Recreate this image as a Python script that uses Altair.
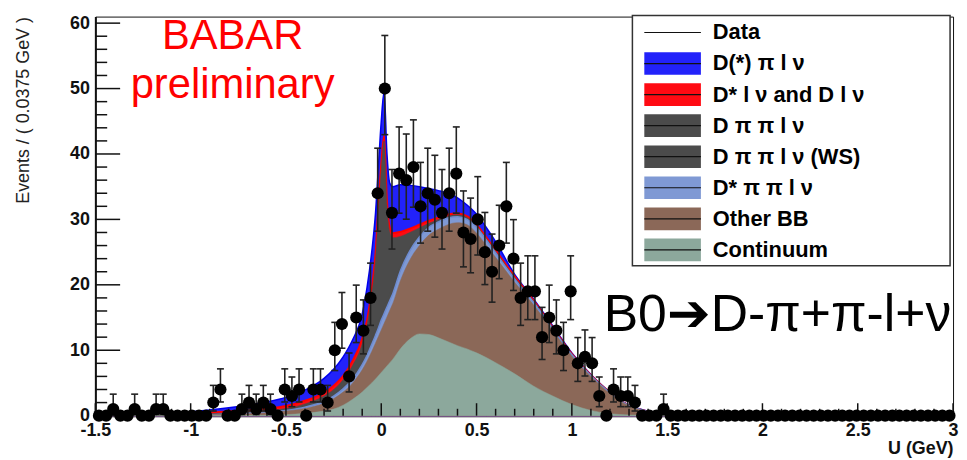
import altair as alt
import pandas as pd

# ---------------- data ----------------
bin_lo = -1.5
bin_w = 0.0375
counts = [0, 0, 1, 0, 0, 1, 0, 0, 1, 1,
          0, 0, 0, 0, 0, 0, 2, 4, 0, 0,
          1, 2, 1, 2, 1, 0, 4, 3, 4, 0,
          4, 4, 2, 10, 14, 6, 15, 13, 18, 34,
          50, 31, 37, 36, 38, 32, 34, 33, 31, 34,
          37, 28, 27, 30, 25, 22, 26, 32, 24, 18,
          19, 19, 12, 15, 13, 10, 19, 8, 9, 8,
          3, 0, 4, 3, 3, 2, 0, 0, 0, 1] + [0] * 40

# fit model: cumulative tops of the stacked components
u_grid = [-1.5, -1.2, -1.0, -0.9, -0.8, -0.7, -0.6, -0.5, -0.4, -0.3, -0.25, -0.2, -0.15,
          -0.1, -0.075, -0.05, -0.03, -0.015, 0.0, 0.015, 0.03, 0.045, 0.06, 0.1, 0.15,
          0.2, 0.25, 0.3, 0.35, 0.4, 0.45, 0.5, 0.55, 0.6, 0.7, 0.8, 0.9, 1.0, 1.1, 1.2,
          1.3, 1.4, 1.5, 1.6, 3.0]
top_continuum = [0, 0, 0, 0, 0, 0.02, 0.05, 0.15, 0.35, 0.7, 1.0, 1.6, 2.5,
                 3.6, 4.3, 5.0, 5.6, 6.1, 6.6, 7.1, 7.6, 8.1, 8.6, 10.2, 11.7,
                 12.5, 12.4, 11.9, 11.3, 10.7, 10.2, 9.6, 8.9, 8.1, 6.4, 4.5, 3.0, 1.7, 0.8, 0.3,
                 0.1, 0.03, 0, 0, 0]
top_otherbb = [0, 0.05, 0.1, 0.15, 0.2, 0.3, 0.45, 0.7, 1.1, 1.9, 2.6, 3.6, 5.0,
               7.0, 8.3, 9.8, 11.1, 12.1, 13.1, 14.1, 15.1, 16.1, 17.1, 20.6, 23.8,
               26.0, 27.6, 28.5, 29.2, 29.5, 29.2, 27.9, 26.1, 24.2, 20.4, 16.9, 13.0, 9.1, 6.0, 3.4,
               1.5, 0.6, 0.2, 0.05, 0]
top_dstarpipi = [0, 0.05, 0.1, 0.15, 0.25, 0.35, 0.5, 0.8, 1.3, 2.2, 3.0, 4.1, 5.6,
                 7.8, 9.2, 10.9, 12.3, 13.4, 14.6, 15.6, 16.6, 17.6, 18.6, 22.1, 25.2,
                 27.3, 28.8, 29.6, 30.2, 30.4, 30.0, 28.8, 26.9, 24.9, 20.9, 17.3, 13.3, 9.3, 6.1, 3.5,
                 1.55, 0.62, 0.21, 0.05, 0]
top_dpipi_ws = [0, 0.07, 0.13, 0.2, 0.3, 0.42, 0.6, 0.9, 1.45, 2.45, 3.3, 4.5, 6.1,
                8.5, 10.0, 11.8, 13.3, 14.5, 15.8, 16.8, 17.8, 18.8, 19.8, 23.0, 25.8,
                27.7, 29.1, 29.8, 30.35, 30.5, 30.1, 28.9, 27.0, 25.0, 21.0, 17.4, 13.4, 9.35, 6.15, 3.52,
                1.56, 0.63, 0.21, 0.05, 0]
top_dpipi = [0, 0.1, 0.2, 0.3, 0.4, 0.55, 0.75, 1.1, 1.8, 3.0, 4.0, 5.5, 7.7,
             11.0, 13.8, 18.5, 24.0, 31.0, 37.5, 42.0, 32.0, 28.0, 27.2, 27.4, 28.0,
             28.7, 29.4, 30.0, 30.5, 30.7, 30.3, 29.0, 27.1, 25.1, 21.1, 17.5, 13.45, 9.4, 6.18, 3.54,
             1.57, 0.64, 0.22, 0.05, 0]
top_dlnu = [0, 0.1, 0.3, 0.5, 0.65, 0.85, 1.1, 1.5, 2.3, 3.5, 4.6, 6.1, 8.4,
            11.8, 14.6, 19.4, 25.0, 32.2, 38.6, 42.8, 33.0, 28.8, 27.9, 28.1, 28.6,
            29.2, 29.8, 30.3, 30.8, 30.9, 30.5, 29.2, 27.3, 25.3, 21.3, 17.6, 13.5, 9.45, 6.2, 3.56,
            1.58, 0.65, 0.22, 0.05, 0]
top_dstarpilnu = [0, 0.15, 0.55, 0.85, 1.2, 1.6, 2.1, 2.8, 3.9, 5.7, 7.1, 9.0, 11.6,
                  15.5, 19.5, 25.0, 31.0, 38.0, 45.0, 49.5, 40.0, 35.5, 35.0, 35.3, 35.2,
                  35.0, 34.7, 34.4, 34.0, 33.3, 32.2, 30.8, 28.8, 26.6, 21.6, 17.8, 13.7, 9.6, 6.3, 3.6,
                  1.6, 0.7, 0.25, 0.06, 0]

legend_labels = ["Data", "D(*) \u03c0 l \u03bd", "D* l \u03bd and D l \u03bd", "D \u03c0 \u03c0 l \u03bd",
                 "D \u03c0 \u03c0 l \u03bd (WS)", "D* \u03c0 \u03c0 l \u03bd", "Other BB", "Continuum"]
legend_colors = ["#ffffff", "#2222fa", "#ff0a12", "#4b4b4b", "#4b4b4b", "#7f99d4", "#8b6858", "#8ca89c"]

y_major = [0, 10, 20, 30, 40, 50, 60]
y_minor = [v for v in range(2, 61, 2) if v % 10 != 0]
x_major = [-1.5, -1.0, -0.5, 0.0, 0.5, 1.0, 1.5, 2.0, 2.5, 3.0]
x_minor = [round(-1.5 + 0.1 * i, 2) for i in range(46) if i % 5 != 0]

# ---------------- derived tables ----------------
def garwood(n):
    if n == 0:
        return None, None
    hi = (n + 1) * (1 - 1 / (9 * (n + 1)) + 1 / (3 * (n + 1) ** 0.5)) ** 3
    lo = n * (1 - 1 / (9 * n) - 1 / (3 * n ** 0.5)) ** 3
    return lo, hi

centers = [bin_lo + bin_w * (k + 0.5) for k in range(len(counts))]
pts = pd.DataFrame({"u": centers, "n": counts})
errs = []
for c, n in zip(centers, counts):
    lo, hi = garwood(n)
    if lo is not None:
        errs.append({"u": c, "lo": lo, "hi": hi})
errs = pd.DataFrame(errs)

FONT = "Liberation Sans"
xs = alt.Scale(domain=[-1.5, 3], nice=False, zero=False)
ys = alt.Scale(domain=[0, 61], nice=False, zero=True)
x_axis = alt.Axis(values=x_major, labelExpr="toString(datum.value)", ticks=False, grid=False,
                  domainColor="#111", domainWidth=2, labelFont=FONT, labelFontSize=18,
                  labelFontWeight="bold", labelColor="#111", labelPadding=6, labelFlush=False,
                  title="U (GeV)", titleFont=FONT, titleFontSize=18, titleFontWeight="bold",
                  titleColor="#111", titleX=864, titleY=38, titleAlign="right",
                  titleBaseline="alphabetic")
y_axis = alt.Axis(values=y_major, ticks=False, grid=False, domainColor="#111", domainWidth=2,
                  labelFont=FONT, labelFontSize=18, labelFontWeight="bold", labelColor="#111",
                  labelPadding=6, labelFlush=False,
                  title="Events / ( 0.0375 GeV )", titleFont=FONT, titleFontSize=18,
                  titleFontWeight="normal", titleColor="#222", titleX=-63, titleY=0,
                  titleAlign="right", titleBaseline="bottom", titleAngle=270)


def X(field):
    return alt.X(field, scale=xs, axis=x_axis)


def Y(field):
    return alt.Y(field, scale=ys, axis=y_axis)


areas = []
specs = [
    (top_dstarpilnu, "#2222fa", "#0000ee", 1.5),
    (top_dlnu, "#ff0a12", "#ff0000", 1.8),
    (top_dpipi, "#4b4b4b", "#4b4b4b", 0.5),
    (top_dpipi_ws, "#4b4b4b", "#4b4b4b", 0.5),
    (top_dstarpipi, "#7f99d4", "#6d8bd0", 1.5),
    (top_otherbb, "#8b6858", "#8b6858", 0.5),
    (top_continuum, "#8ca89c", "#8ca89c", 0.5),
]
for top, fill, edge, sw in specs:
    df = pd.DataFrame({"u": u_grid, "v": top})
    areas.append(
        alt.Chart(df).mark_area(color=fill, stroke=edge, strokeWidth=sw, opacity=1,
                                interpolate="monotone")
        .encode(x=X("u:Q"), y=Y("v:Q"))
    )

ytick_df = pd.DataFrame(
    [{"y": v, "x1": -1.5, "x2": -1.5 + 0.13} for v in y_major] +
    [{"y": v, "x1": -1.5, "x2": -1.5 + 0.062} for v in y_minor])
xtick_df = pd.DataFrame(
    [{"x": v, "y1": 0, "y2": 1.9} for v in x_major] +
    [{"x": v, "y1": 0, "y2": 1.05} for v in x_minor])

yticks = alt.Chart(ytick_df).mark_rule(color="#111", strokeWidth=1.5).encode(
    x=X("x1:Q"), x2="x2:Q", y=Y("y:Q"))
xticks = alt.Chart(xtick_df).mark_rule(color="#111", strokeWidth=1.5).encode(
    x=X("x:Q"), y=Y("y1:Q"), y2="y2:Q")

ebar = alt.Chart(errs).mark_rule(color="#222", strokeWidth=1.6).encode(
    x=X("u:Q"), y=Y("lo:Q"), y2="hi:Q")
cap_hi = alt.Chart(errs).mark_point(shape="M-1,0L1,0", size=49, filled=False, color="#222",
                                    strokeWidth=1.6, opacity=1).encode(x=X("u:Q"), y=Y("hi:Q"))
cap_lo = alt.Chart(errs).mark_point(shape="M-1,0L1,0", size=49, filled=False, color="#222",
                                    strokeWidth=1.6, opacity=1).encode(x=X("u:Q"), y=Y("lo:Q"))
dots = alt.Chart(pts).mark_circle(size=150, color="black", opacity=1).encode(
    x=X("u:Q"), y=Y("n:Q"))

ann_red = pd.DataFrame({"u": [-0.78, -0.78], "v": [56.0, 48.6], "t": ["BABAR", "preliminary"]})
red_txt = alt.Chart(ann_red).mark_text(font=FONT, fontSize=42, color="#ff0000", align="center",
                                       baseline="alphabetic").encode(x=X("u:Q"), y=Y("v:Q"), text="t:N")
ann_b = pd.DataFrame({"u": [1.167], "v": [12.9], "t": ["B0\u2794D-\u03c0+\u03c0-l+\u03bd"]})
b_txt = alt.Chart(ann_b).mark_text(font=FONT, fontSize=52, color="#000", align="left",
                                   baseline="alphabetic").encode(x=X("u:Q"), y=Y("v:Q"), text="t:N")

main = alt.layer(*areas, xticks, yticks, ebar, cap_hi, cap_lo, dots, red_txt, b_txt)

# ---------------- legend ----------------
leg = pd.DataFrame({"row": list(range(len(legend_labels))), "label": legend_labels,
                    "col": legend_colors})
ls = alt.Scale(domain=[0, 7], range=[16, 235])
box = alt.Chart(pd.DataFrame({"a": [0]})).mark_rect(fill="white", stroke="#333", strokeWidth=1.5).encode(
    x=alt.value(541), x2=alt.value(861), y=alt.value(-1), y2=alt.value(251))
syms = alt.Chart(leg[leg.row > 0]).mark_point(shape="M-1,-0.4L1,-0.4L1,0.4L-1,0.4Z", size=3249,
                                              filled=True, opacity=1, strokeWidth=0).encode(
    x=alt.value(581.5), y=alt.Y("row:Q", scale=ls, axis=None), color=alt.Color("col:N", scale=None))
lines = alt.Chart(leg).mark_rule(color="#111", strokeWidth=1.2).encode(
    x=alt.value(553), x2=alt.value(610), y=alt.Y("row:Q", scale=ls, axis=None))
texts = alt.Chart(leg).mark_text(font=FONT, fontSize=22, fontWeight="bold", color="#000",
                                 align="left", baseline="middle").encode(
    x=alt.value(622), y=alt.Y("row:Q", scale=ls, axis=None), text="label:N")
legend = alt.layer(box, syms, lines, texts)

chart = alt.layer(main, legend).resolve_scale(y="independent").properties(
    width=864, height=402,
    autosize=alt.AutoSizeParams(type="none"),
    padding={"left": 88, "top": 7, "right": 6, "bottom": 42},
).configure_view(stroke="#111", strokeWidth=1)

chart.save("out.html", embed_options={"renderer": "svg", "actions": False})
